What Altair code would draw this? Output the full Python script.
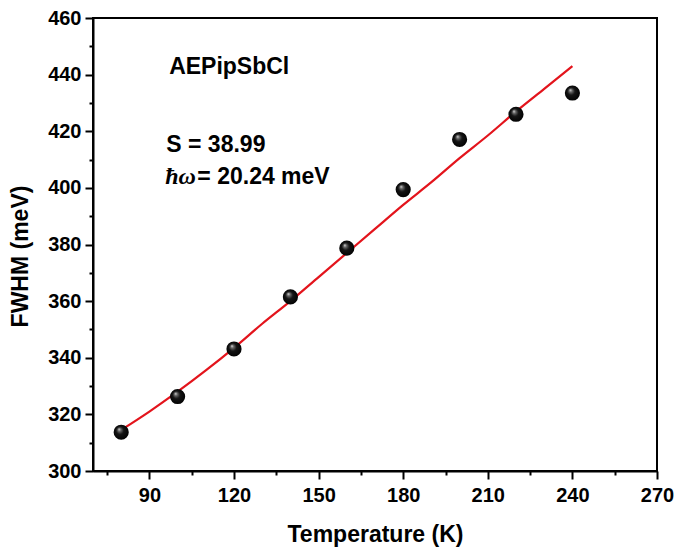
import altair as alt
import pandas as pd

# measured data
temps = [80, 100, 120, 140, 160, 180, 200, 220, 240]
fwhm = [313.7, 326.3, 343.1, 361.5, 378.7, 399.4, 417.1, 426.0, 433.5]

# fitted curve
fit_t = [80, 90, 100, 110, 120, 130, 140, 150, 160, 170, 180, 190, 200, 210, 220, 230, 240]
fit_v = [314.5, 321.0, 328.0, 335.5, 343.5, 352.0, 360.0, 368.5, 377.0, 385.5, 394.0, 402.0,
         410.5, 418.5, 427.0, 435.0, 443.0]

x_major = [90, 120, 150, 180, 210, 240, 270]
x_minor = [75, 105, 135, 165, 195, 225, 255]
y_major = [300, 320, 340, 360, 380, 400, 420, 440, 460]
y_minor = [310, 330, 350, 370, 390, 410, 430, 450]

ann_text = ["AEPipSbCl", "S = 38.99", "= 20.24 meV"]
ann_t = [97.0, 96.0, 107.0]
ann_v = [440.2, 412.6, 401.2]
hw_text = ["ħω"]
hw_t = [95.6]
hw_v = [401.2]

pts = pd.DataFrame({"T": temps, "FWHM": fwhm})
fit = pd.DataFrame({"T": fit_t, "FWHM": fit_v})
ann = pd.DataFrame({"T": ann_t, "FWHM": ann_v, "label": ann_text})
hw = pd.DataFrame({"T": hw_t, "FWHM": hw_v, "label": hw_text})

FONT = "Liberation Sans"
xs = alt.Scale(domain=[70, 270], nice=False, zero=False)
ys = alt.Scale(domain=[300, 460], nice=False, zero=False)

common_axis = dict(grid=False, domainColor="black", domainWidth=2, tickColor="black",
                   tickWidth=2, labelColor="black", labelFont=FONT, labelFontSize=20,
                   labelFontWeight="bold", titleColor="black", titleFont=FONT,
                   titleFontSize=23, titleFontWeight="bold")

x_main = alt.Axis(orient="bottom", values=x_major, tickSize=8, labelPadding=6,
                  title="Temperature (K)", titlePadding=18, labelFlush=False, **common_axis)
y_main = alt.Axis(orient="left", values=y_major, tickSize=8, labelPadding=4,
                  title="FWHM (meV)", titlePadding=15, titleY=238, labelFlush=False,
                  **common_axis)
x_min = alt.Axis(orient="bottom", values=x_minor, tickSize=4, labels=False, domain=False,
                 title=None, grid=False, tickColor="black", tickWidth=2)
y_min = alt.Axis(orient="left", values=y_minor, tickSize=4, labels=False, domain=False,
                 title=None, grid=False, tickColor="black", tickWidth=2)

line = alt.Chart(fit).mark_line(color="#e3141c", strokeWidth=2.2, interpolate="monotone").encode(
    x=alt.X("T:Q", scale=xs, axis=x_main),
    y=alt.Y("FWHM:Q", scale=ys, axis=y_main),
)

grad = alt.RadialGradient(
    gradient="radial", x1=0.36, y1=0.3, r1=0.0, x2=0.5, y2=0.5, r2=0.55,
    stops=[alt.GradientStop(color="#e8e8e8", offset=0.0),
           alt.GradientStop(color="#6a6a6a", offset=0.18),
           alt.GradientStop(color="#151515", offset=0.45),
           alt.GradientStop(color="#000000", offset=1.0)],
)

points = alt.Chart(pts).mark_point(filled=True, fill=grad, opacity=1, size=230, shape="circle",
                                   strokeWidth=0).encode(
    x=alt.X("T:Q", scale=xs, axis=x_min),
    y=alt.Y("FWHM:Q", scale=ys, axis=y_min),
)

texts = alt.Chart(ann).mark_text(align="left", baseline="alphabetic", font=FONT, fontSize=23,
                                 fontWeight="bold", color="black").encode(
    x=alt.X("T:Q", scale=xs, axis=None),
    y=alt.Y("FWHM:Q", scale=ys, axis=None),
    text="label:N",
)

hw_mark = alt.Chart(hw).mark_text(align="left", baseline="alphabetic", font="Liberation Serif",
                                  fontSize=24, fontStyle="italic", fontWeight="bold",
                                  color="black").encode(
    x=alt.X("T:Q", scale=xs, axis=None),
    y=alt.Y("FWHM:Q", scale=ys, axis=None),
    text="label:N",
)

chart = alt.layer(line, points, texts, hw_mark).resolve_axis(
    x="independent", y="independent"
).properties(
    width=564, height=453,
    autosize=alt.AutoSizeParams(type="none"),
    padding={"left": 93, "top": 18, "right": 21, "bottom": 84},
    background="white",
).configure_view(stroke="black", strokeWidth=2)

chart.save("out.html", embed_options={"renderer": "svg", "actions": False})
